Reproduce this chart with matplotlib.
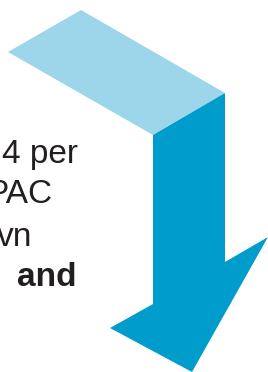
import matplotlib.pyplot as plt
from matplotlib.patches import Polygon

# Arrow shape (pixel coordinates of the 268x372 canvas, y downward)
top_face = [(8, 52), (81, 10), (225, 93), (153, 135)]
front_face = [(153, 135), (225, 93), (225, 262), (268, 237),
              (192, 372), (110, 328), (153, 304)]

# Clipped paragraph text on the left
text_lines = ["4 per", "PAC", "vn", "and"]
text_bold = [False, False, False, True]
text_right = [78, 52, 32, 77]
text_base = [163, 203, 246, 286]

light_blue = "#9dd5ea"
dark_blue = "#009ccc"
text_color = "#231f20"

fig = plt.figure(figsize=(2.68, 3.72), dpi=100)
ax = fig.add_axes([0, 0, 1, 1])
ax.set_xlim(0, 268)
ax.set_ylim(372, 0)
ax.axis("off")

ax.add_patch(Polygon(top_face, closed=True, facecolor=light_blue, edgecolor="none"))
ax.add_patch(Polygon(front_face, closed=True, facecolor=dark_blue, edgecolor="none"))

for s, b, xr, yb in zip(text_lines, text_bold, text_right, text_base):
    ax.text(xr, yb, s, ha="right", va="baseline", fontsize=24,
            family="Liberation Sans", fontweight="bold" if b else "normal",
            color=text_color)

fig.savefig("out.png", dpi=100)
